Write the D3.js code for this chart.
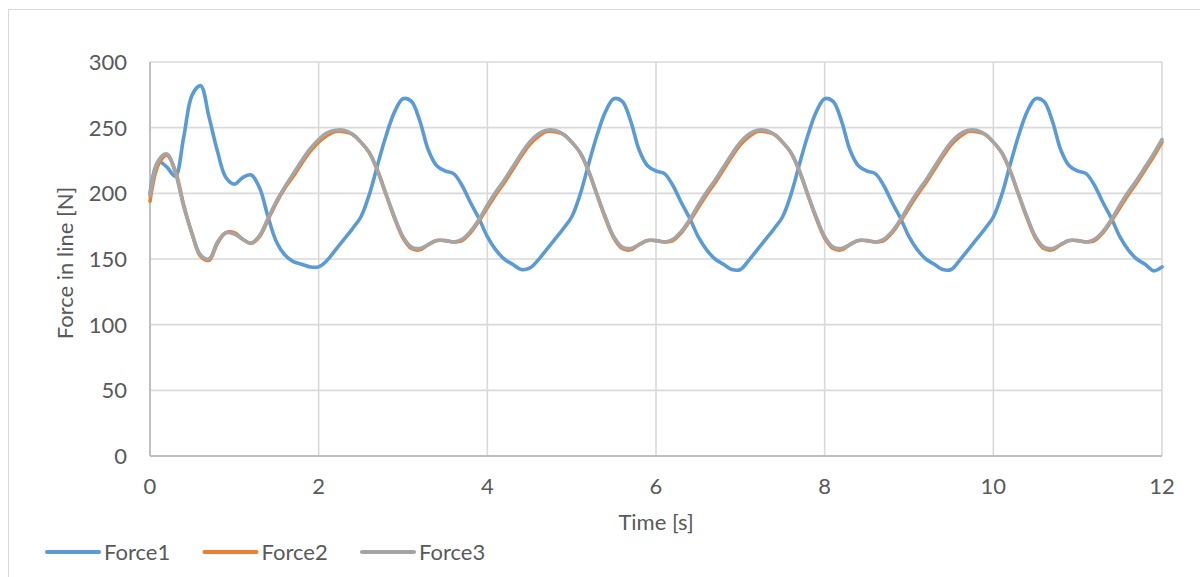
<!DOCTYPE html>
<html>
<head>
<meta charset="utf-8">
<script src="https://cdn.jsdelivr.net/npm/d3@7"></script>
<style>
  html, body { margin: 0; padding: 0; background: #fff; }
  svg { display: block; font-family: Lato, "Liberation Sans", sans-serif; }
</style>
</head>
<body>
<svg id="chart" width="1200" height="577"></svg>
<script>
// Sample times [s]
const time = [
  0.0,0.1,0.2,0.3,0.4,0.5,0.6,0.7,0.8,0.9,1.0,1.1,1.2,1.3,1.4,1.5,1.6,1.7,1.8,1.9,
  2.0,2.1,2.2,2.3,2.4,2.5,2.6,2.7,2.8,2.9,3.0,3.1,3.2,3.3,3.4,3.5,3.6,3.7,3.8,3.9,
  4.0,4.1,4.2,4.3,4.4,4.5,4.6,4.7,4.8,4.9,5.0,5.1,5.2,5.3,5.4,5.5,5.6,5.7,5.8,5.9,
  6.0,6.1,6.2,6.3,6.4,6.5,6.6,6.7,6.8,6.9,7.0,7.1,7.2,7.3,7.4,7.5,7.6,7.7,7.8,7.9,
  8.0,8.1,8.2,8.3,8.4,8.5,8.6,8.7,8.8,8.9,9.0,9.1,9.2,9.3,9.4,9.5,9.6,9.7,9.8,9.9,
  10.0,10.1,10.2,10.3,10.4,10.5,10.6,10.7,10.8,10.9,11.0,11.1,11.2,11.3,11.4,11.5,11.6,11.7,11.8,11.9,
  12.0
];

// Line forces [N]
const force1 = [
  200,224,220,213,243,275,282,258,232,212,207,212,214,204,182,163,153,148,146,144,
  144,149,157,165,173,182,199,222,244,262,272,270,255,233,221,217,215,206,193,181,
  167,157,150,146,142,143,149,157,165,173,182,199,222,244,262,272,270,255,233,221,
  217,215,206,193,181,167,157,150,146,142,142,149,157,165,173,182,199,222,244,262,
  272,270,255,233,221,217,215,206,193,181,167,157,150,146,142,142,149,157,165,173,
  182,199,222,244,262,272,270,255,233,221,217,215,206,193,181,167,157,150,146,141,
  144
];

const force2 = [
  194,222,229,217,191,169,152,149,162,170,170,165,162,167,180,193,204,213,223,232,
  239,244,247,247,245,239,231,217,199,181,166,158,157,161,164,164,163,164,170,179,
  189,199,208,218,228,237,243,247,247,245,239,231,217,199,181,166,158,157,161,164,
  164,163,164,170,179,189,199,208,218,228,237,243,247,247,245,239,231,217,199,181,
  166,158,157,161,164,164,163,164,170,179,189,199,208,218,228,237,243,247,247,245,
  239,231,217,199,181,166,158,157,161,164,164,163,164,170,179,189,199,208,218,228,
  239
];

const force3 = [
  198,225,230,216,190,169,153,150,163,170,169,165,162,168,181,194,205,215,225,234,
  241,246,248,248,245,239,231,217,199,182,167,159,158,161,164,164,163,165,171,180,
  191,201,210,220,230,239,245,248,248,245,239,231,217,199,182,167,159,158,161,164,
  164,163,165,171,180,191,201,210,220,230,239,245,248,248,245,239,231,217,199,182,
  167,159,158,161,164,164,163,165,171,180,191,201,210,220,230,239,245,248,248,245,
  239,231,217,199,182,167,159,158,161,164,164,163,165,171,180,191,201,210,220,230,
  241
];

const seriesNames = ["Force1", "Force2", "Force3"];
const seriesColors = ["#5b9bd5", "#ed7d31", "#a5a5a5"];
const xTicks = [0, 2, 4, 6, 8, 10, 12];
const yTicks = [0, 50, 100, 150, 200, 250, 300];
const xTitle = "Time [s]";
const yTitle = "Force in line [N]";

const series = [force1, force2, force3].map((vals, i) => ({
  name: seriesNames[i],
  color: seriesColors[i],
  points: vals.map((v, j) => ({ t: time[j], v }))
}));

const svg = d3.select("#chart");
const textColor = "#595959";
const fontSize = 22;

// Chart frame
svg.append("rect")
  .attr("x", 8.5).attr("y", 9.5)
  .attr("width", 1200).attr("height", 600)
  .attr("fill", "#fff").attr("stroke", "#d9d9d9").attr("stroke-width", 1);

const x = d3.scaleLinear().domain([0, 12]).range([150, 1162]);
const y = d3.scaleLinear().domain([0, 300]).range([456, 62]);

// Gridlines
const grid = svg.append("g");
grid.selectAll("line.h")
  .data(yTicks.filter(d => d !== 0))
  .join("line")
  .attr("x1", x(0)).attr("x2", x(12))
  .attr("y1", d => y(d)).attr("y2", d => y(d))
  .attr("stroke", "#d9d9d9").attr("stroke-width", 1.6);
grid.selectAll("line.v")
  .data(xTicks.filter(d => d !== 0))
  .join("line")
  .attr("y1", y(0)).attr("y2", y(300))
  .attr("x1", d => x(d)).attr("x2", d => x(d))
  .attr("stroke", "#d9d9d9").attr("stroke-width", 1.6);

// Axis lines
svg.append("line")
  .attr("x1", x(0)).attr("x2", x(0)).attr("y1", y(0)).attr("y2", y(300))
  .attr("stroke", "#bfbfbf").attr("stroke-width", 2);
svg.append("line")
  .attr("x1", x(0)).attr("x2", x(12)).attr("y1", y(0)).attr("y2", y(0))
  .attr("stroke", "#bfbfbf").attr("stroke-width", 2);

// Tick labels
svg.append("g").selectAll("text")
  .data(yTicks)
  .join("text")
  .attr("x", 127)
  .attr("y", d => y(d) + 8)
  .attr("text-anchor", "end")
  .attr("font-size", fontSize)
  .attr("fill", textColor)
  .text(d => d);

svg.append("g").selectAll("text")
  .data(xTicks)
  .join("text")
  .attr("x", d => x(d))
  .attr("y", 494)
  .attr("text-anchor", "middle")
  .attr("font-size", fontSize)
  .attr("fill", textColor)
  .text(d => d);

// Axis titles
svg.append("text")
  .attr("x", 656).attr("y", 530)
  .attr("text-anchor", "middle")
  .attr("font-size", fontSize)
  .attr("fill", textColor)
  .text(xTitle);

svg.append("text")
  .attr("transform", "translate(73,263) rotate(-90)")
  .attr("text-anchor", "middle")
  .attr("font-size", fontSize)
  .attr("fill", textColor)
  .text(yTitle);

// Series lines
const line = d3.line()
  .x(d => x(d.t))
  .y(d => y(d.v))
  .curve(d3.curveCatmullRom.alpha(0.5));

svg.append("g").selectAll("path")
  .data(series)
  .join("path")
  .attr("d", d => line(d.points))
  .attr("fill", "none")
  .attr("stroke", d => d.color)
  .attr("stroke-width", 3.6)
  .attr("stroke-linejoin", "round")
  .attr("stroke-linecap", "round");

// Legend
const legend = svg.append("g").selectAll("g")
  .data(series)
  .join("g")
  .attr("transform", (d, i) => `translate(${47 + i * 157.5},552)`);
legend.append("line")
  .attr("x1", 0).attr("x2", 52)
  .attr("y1", 0).attr("y2", 0)
  .attr("stroke", d => d.color)
  .attr("stroke-width", 4)
  .attr("stroke-linecap", "round");
legend.append("text")
  .attr("x", 57).attr("y", 7.5)
  .attr("font-size", fontSize)
  .attr("fill", textColor)
  .text(d => d.name);
</script>
</body>
</html>
